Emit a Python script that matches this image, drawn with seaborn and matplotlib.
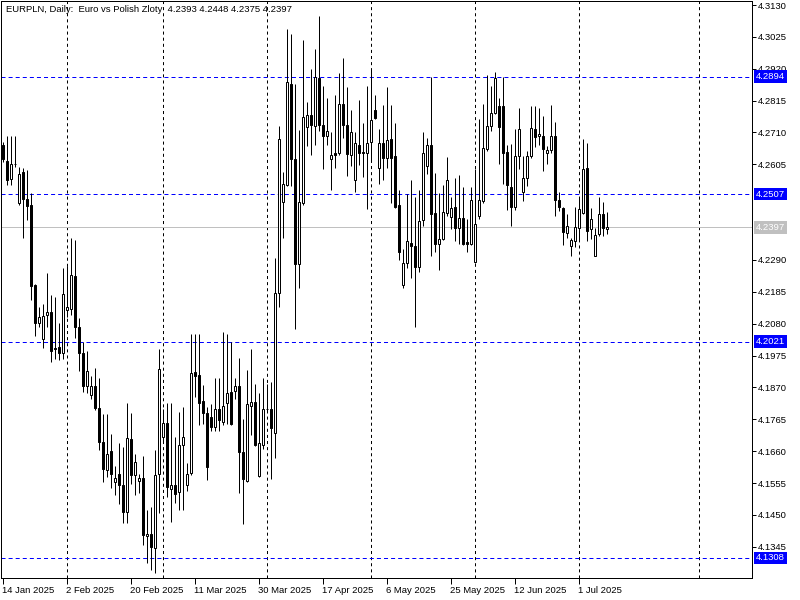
import numpy as np
import pandas as pd
import matplotlib
matplotlib.use("Agg")
import matplotlib.pyplot as plt
import matplotlib.transforms as mtransforms
import seaborn as sns

# ---------------- data ----------------
title_text = "EURPLN, Daily:  Euro vs Polish Zloty  4.2393 4.2448 4.2375 4.2397"
first_date = "2025-01-14"

opens = [4.2670, 4.2616, 4.2556, 4.2606, 4.2479, 4.2579, 4.2491, 4.2470, 4.2207, 4.2082,
         4.2028, 4.2107, 4.2117, 4.1999, 4.2002, 4.1985, 4.2125, 4.2127, 4.2237, 4.2068,
         4.1985, 4.1873, 4.1845, 4.1875, 4.1802, 4.1689, 4.1598, 4.1659, 4.1558, 4.1585,
         4.1550, 4.1461, 4.1701, 4.1583, 4.1561, 4.1573, 4.1381, 4.1386, 4.1342, 4.1586,
         4.1706, 4.1752, 4.1535, 4.1549, 4.1527, 4.1681, 4.1547, 4.1589, 4.1921, 4.1912,
         4.1824, 4.1787, 4.1774, 4.1739, 4.1798, 4.1757, 4.1820, 4.1854, 4.1857, 4.1873,
         4.1656, 4.1562, 4.1810, 4.1823, 4.1579, 4.1680, 4.1798, 4.1798, 4.1719, 4.2182,
         4.2482, 4.2537, 4.2871, 4.2621, 4.2277, 4.2479, 4.2728, 4.2769, 4.2731, 4.2889,
         4.2735, 4.2698, 4.2622, 4.2643, 4.2643, 4.2805, 4.2735, 4.2635, 4.2555, 4.2670,
         4.2646, 4.2641, 4.2680, 4.2783, 4.2594, 4.2674, 4.2627, 4.2689, 4.2633, 4.2472,
         4.2207, 4.2281, 4.2347, 4.2335, 4.2268, 4.2420, 4.2598, 4.2668, 4.2444, 4.2344,
         4.2359, 4.2446, 4.2432, 4.2464, 4.2396, 4.2427, 4.2348, 4.2344, 4.2283, 4.2436,
         4.2483, 4.2655, 4.2732, 4.2774, 4.2796, 4.2798, 4.2646, 4.2531, 4.2466, 4.2631,
         4.2515, 4.2561, 4.2631, 4.2722, 4.2698, 4.2700, 4.2641, 4.2653, 4.2698, 4.2488,
         4.2460, 4.2379, 4.2336, 4.2351, 4.2396, 4.2446, 4.2594, 4.2391, 4.2304, 4.2377,
         4.2442, 4.2393]
highs = [4.2680, 4.2698, 4.2698, 4.2698, 4.2595, 4.2594, 4.2586, 4.2509, 4.2210, 4.2136,
         4.2144, 4.2246, 4.2174, 4.2169, 4.2083, 4.2262, 4.2271, 4.2363, 4.2357, 4.2098,
         4.2021, 4.1991, 4.1906, 4.1934, 4.1900, 4.1784, 4.1781, 4.1717, 4.1611, 4.1686,
         4.1674, 4.1820, 4.1786, 4.1650, 4.1585, 4.1644, 4.1466, 4.1477, 4.1664, 4.1996,
         4.1800, 4.1818, 4.1820, 4.1706, 4.1790, 4.1806, 4.1620, 4.2046, 4.2046, 4.2046,
         4.1878, 4.1806, 4.1814, 4.1900, 4.1900, 4.2054, 4.2046, 4.2021, 4.1900, 4.1967,
         4.1765, 4.1926, 4.1997, 4.1881, 4.1851, 4.1900, 4.1881, 4.1887, 4.2298, 4.2731,
         4.2580, 4.3052, 4.3033, 4.2869, 4.2719, 4.3015, 4.2810, 4.2920, 4.2984, 4.3094,
         4.2863, 4.2822, 4.2710, 4.2835, 4.2905, 4.2956, 4.2859, 4.2783, 4.2710, 4.2817,
         4.2741, 4.2863, 4.2924, 4.2835, 4.2722, 4.2802, 4.2859, 4.2802, 4.2741, 4.2519,
         4.2326, 4.2507, 4.2552, 4.2499, 4.2521, 4.2710, 4.2692, 4.2893, 4.2576, 4.2509,
         4.2537, 4.2628, 4.2497, 4.2561, 4.2570, 4.2530, 4.2424, 4.2530, 4.2588, 4.2753,
         4.2803, 4.2899, 4.2863, 4.2908, 4.2822, 4.2893, 4.2670, 4.2671, 4.2722, 4.2792,
         4.2631, 4.2649, 4.2798, 4.2796, 4.2789, 4.2765, 4.2664, 4.2802, 4.2743, 4.2515,
         4.2463, 4.2442, 4.2363, 4.2463, 4.2497, 4.2688, 4.2676, 4.2460, 4.2396, 4.2499,
         4.2482, 4.2448]
lows = [4.2613, 4.2537, 4.2537, 4.2597, 4.2471, 4.2361, 4.2422, 4.2158, 4.2039, 4.2070,
        4.1999, 4.2070, 4.1955, 4.1963, 4.1960, 4.1963, 4.2101, 4.2107, 4.2034, 4.1924,
        4.1854, 4.1851, 4.1832, 4.1796, 4.1665, 4.1558, 4.1576, 4.1540, 4.1516, 4.1485,
        4.1424, 4.1424, 4.1552, 4.1516, 4.1522, 4.1351, 4.1290, 4.1269, 4.1258, 4.1455,
        4.1690, 4.1510, 4.1425, 4.1488, 4.1466, 4.1466, 4.1530, 4.1580, 4.1839, 4.1746,
        4.1750, 4.1564, 4.1725, 4.1725, 4.1725, 4.1745, 4.1750, 4.1747, 4.1832, 4.1522,
        4.1420, 4.1558, 4.1713, 4.1676, 4.1576, 4.1668, 4.1793, 4.1567, 4.1637, 4.2135,
        4.2363, 4.2533, 4.2533, 4.2064, 4.2198, 4.2472, 4.2664, 4.2637, 4.2670, 4.2716,
        4.2588, 4.2668, 4.2521, 4.2594, 4.2637, 4.2692, 4.2566, 4.2600, 4.2513, 4.2603,
        4.2564, 4.2458, 4.2619, 4.2756, 4.2539, 4.2555, 4.2594, 4.2479, 4.2460, 4.2290,
        4.2198, 4.2265, 4.2232, 4.2070, 4.2251, 4.2403, 4.2574, 4.2302, 4.2316, 4.2257,
        4.2357, 4.2436, 4.2393, 4.2354, 4.2344, 4.2338, 4.2316, 4.2338, 4.2281, 4.2424,
        4.2479, 4.2649, 4.2716, 4.2771, 4.2607, 4.2539, 4.2454, 4.2403, 4.2454, 4.2588,
        4.2485, 4.2533, 4.2625, 4.2661, 4.2668, 4.2582, 4.2607, 4.2643, 4.2436, 4.2452,
        4.2338, 4.2363, 4.2302, 4.2332, 4.2357, 4.2440, 4.2354, 4.2359, 4.2302, 4.2369,
        4.2369, 4.2375]
closes = [4.2621, 4.2553, 4.2606, 4.2607, 4.2572, 4.2491, 4.2468, 4.2205, 4.2081, 4.2101,
          4.2105, 4.2117, 4.1991, 4.1996, 4.1982, 4.2177, 4.2134, 4.2241, 4.2068, 4.1985,
          4.1873, 4.1924, 4.1873, 4.1802, 4.1689, 4.1601, 4.1652, 4.1586, 4.1573, 4.1550,
          4.1459, 4.1704, 4.1583, 4.1623, 4.1573, 4.1384, 4.1387, 4.1345, 4.1583, 4.1930,
          4.1752, 4.1541, 4.1549, 4.1518, 4.1681, 4.1706, 4.1585, 4.1916, 4.1909, 4.1820,
          4.1785, 4.1609, 4.1739, 4.1798, 4.1763, 4.1810, 4.1853, 4.1750, 4.1873, 4.1656,
          4.1567, 4.1814, 4.1823, 4.1680, 4.1686, 4.1800, 4.1800, 4.1737, 4.2182, 4.2688,
          4.2539, 4.2875, 4.2621, 4.2277, 4.2481, 4.2761, 4.2769, 4.2735, 4.2893, 4.2735,
          4.2698, 4.2716, 4.2637, 4.2637, 4.2805, 4.2735, 4.2639, 4.2713, 4.2674, 4.2643,
          4.2643, 4.2674, 4.2750, 4.2759, 4.2674, 4.2627, 4.2686, 4.2627, 4.2466, 4.2316,
          4.2281, 4.2351, 4.2335, 4.2268, 4.2417, 4.2643, 4.2668, 4.2442, 4.2341, 4.2359,
          4.2448, 4.2555, 4.2460, 4.2396, 4.2427, 4.2341, 4.2344, 4.2487, 4.2409, 4.2487,
          4.2658, 4.2732, 4.2774, 4.2891, 4.2728, 4.2643, 4.2537, 4.2463, 4.2631, 4.2722,
          4.2561, 4.2633, 4.2726, 4.2696, 4.2704, 4.2655, 4.2652, 4.2700, 4.2488, 4.2463,
          4.2383, 4.2403, 4.2357, 4.2397, 4.2457, 4.2591, 4.2387, 4.2426, 4.2371, 4.2442,
          4.2396, 4.2397]

level_lines = [4.2894, 4.2507, 4.2021, 4.1308]
last_price = 4.2397
# axis price labels shown in the reference (4.2500 and 4.2395 are covered by boxes)
price_ticks = [4.3130, 4.3025, 4.2920, 4.2815, 4.2710, 4.2605, 4.2290,
               4.2185, 4.2080, 4.1975, 4.1870, 4.1765, 4.1660, 4.1555, 4.1450, 4.1345]
date_label_every = 16

# ---------------- style ----------------
sns.set_theme(style="white")
plt.rcParams["font.family"] = ["Liberation Sans", "DejaVu Sans"]
plt.rcParams["lines.scale_dashes"] = False
FS = 6.8
LW = 0.72

o = np.array(opens); h = np.array(highs); l = np.array(lows); c = np.array(closes)
n = len(o)
x = np.arange(n)

# bar dates: the server has Sunday bars but no Saturday bars
all_days = pd.date_range(first_date, periods=n * 2, freq="D")
bar_dates = all_days[all_days.dayofweek != 5][:n]
future = pd.date_range(bar_dates[-1] + pd.Timedelta(days=1), periods=60, freq="D")
chart_dates = bar_dates.append(future)
month_starts = [i for i in range(1, len(chart_dates))
                if chart_dates[i].month != chart_dates[i - 1].month]

fig = plt.figure(figsize=(8, 6), dpi=100, facecolor="white")
ax = fig.add_axes([1 / 800, 22 / 600, 751 / 800, 577 / 600])
ax.set_facecolor("white")
ax.set_xlim(-0.375, 187.375)
ax.set_ylim(4.12420, 4.31432)

# grid / level lines
for m in month_starts:
    ax.axvline(m, color="black", lw=LW, ls=(0, (2.2, 2.2)), zorder=1)
for v in level_lines:
    ax.axhline(v, color="#0000ff", lw=LW, ls=(0, (2.9, 2.2)), zorder=1)
ax.axhline(last_price, color="#c0c0c0", lw=LW, zorder=1)

# candles
up = c >= o
ax.vlines(x, l, h, color="black", lw=LW, zorder=3)
body = np.maximum(np.abs(c - o), 0.00002)
ax.bar(x, body, bottom=np.minimum(o, c), width=0.5,
       color=np.where(up, "white", "black"), edgecolor="black",
       linewidth=LW, zorder=4)

# axes frame
for s in ax.spines.values():
    s.set_visible(True)
    s.set_color("black")
    s.set_linewidth(LW)

# y axis on the right
ax.set_yticks(price_ticks)
ax.set_yticklabels([f"{v:.4f}" for v in price_ticks])
ax.tick_params(axis="y", left=False, right=True, labelleft=False, labelright=True,
               direction="out", length=3, width=LW, pad=1.5, labelsize=FS,
               colors="black")

# x axis date labels
xt = list(range(0, n, date_label_every))
ax.set_xticks(xt)
ax.set_xticklabels([f"{bar_dates[i].day} {bar_dates[i].strftime('%b %Y')}" for i in xt])
ax.tick_params(axis="x", bottom=True, direction="out", length=4, width=LW, pad=2,
               labelsize=FS, colors="black")
for lbl in ax.get_xticklabels():
    lbl.set_ha("left")

# price boxes on the axis
trans = mtransforms.blended_transform_factory(ax.transAxes, ax.transData)
for v in level_lines:
    ax.text(1.0 + 4 / 751, v, f"{v:.4f}", transform=trans, ha="left", va="center",
            color="white", fontsize=FS, clip_on=False, zorder=6,
            bbox=dict(boxstyle="square,pad=0.18", fc="#0000ff", ec="none"))
ax.text(1.0 + 4 / 751, last_price, f"{last_price:.4f}", transform=trans, ha="left",
        va="center", color="white", fontsize=FS, clip_on=False, zorder=6,
        bbox=dict(boxstyle="square,pad=0.18", fc="#c0c0c0", ec="none"))

fig.text(6 / 800, 1 - 10 / 600, title_text, fontsize=FS, ha="left", va="center",
         color="black")

fig.savefig("out.png", dpi=100, facecolor="white")
